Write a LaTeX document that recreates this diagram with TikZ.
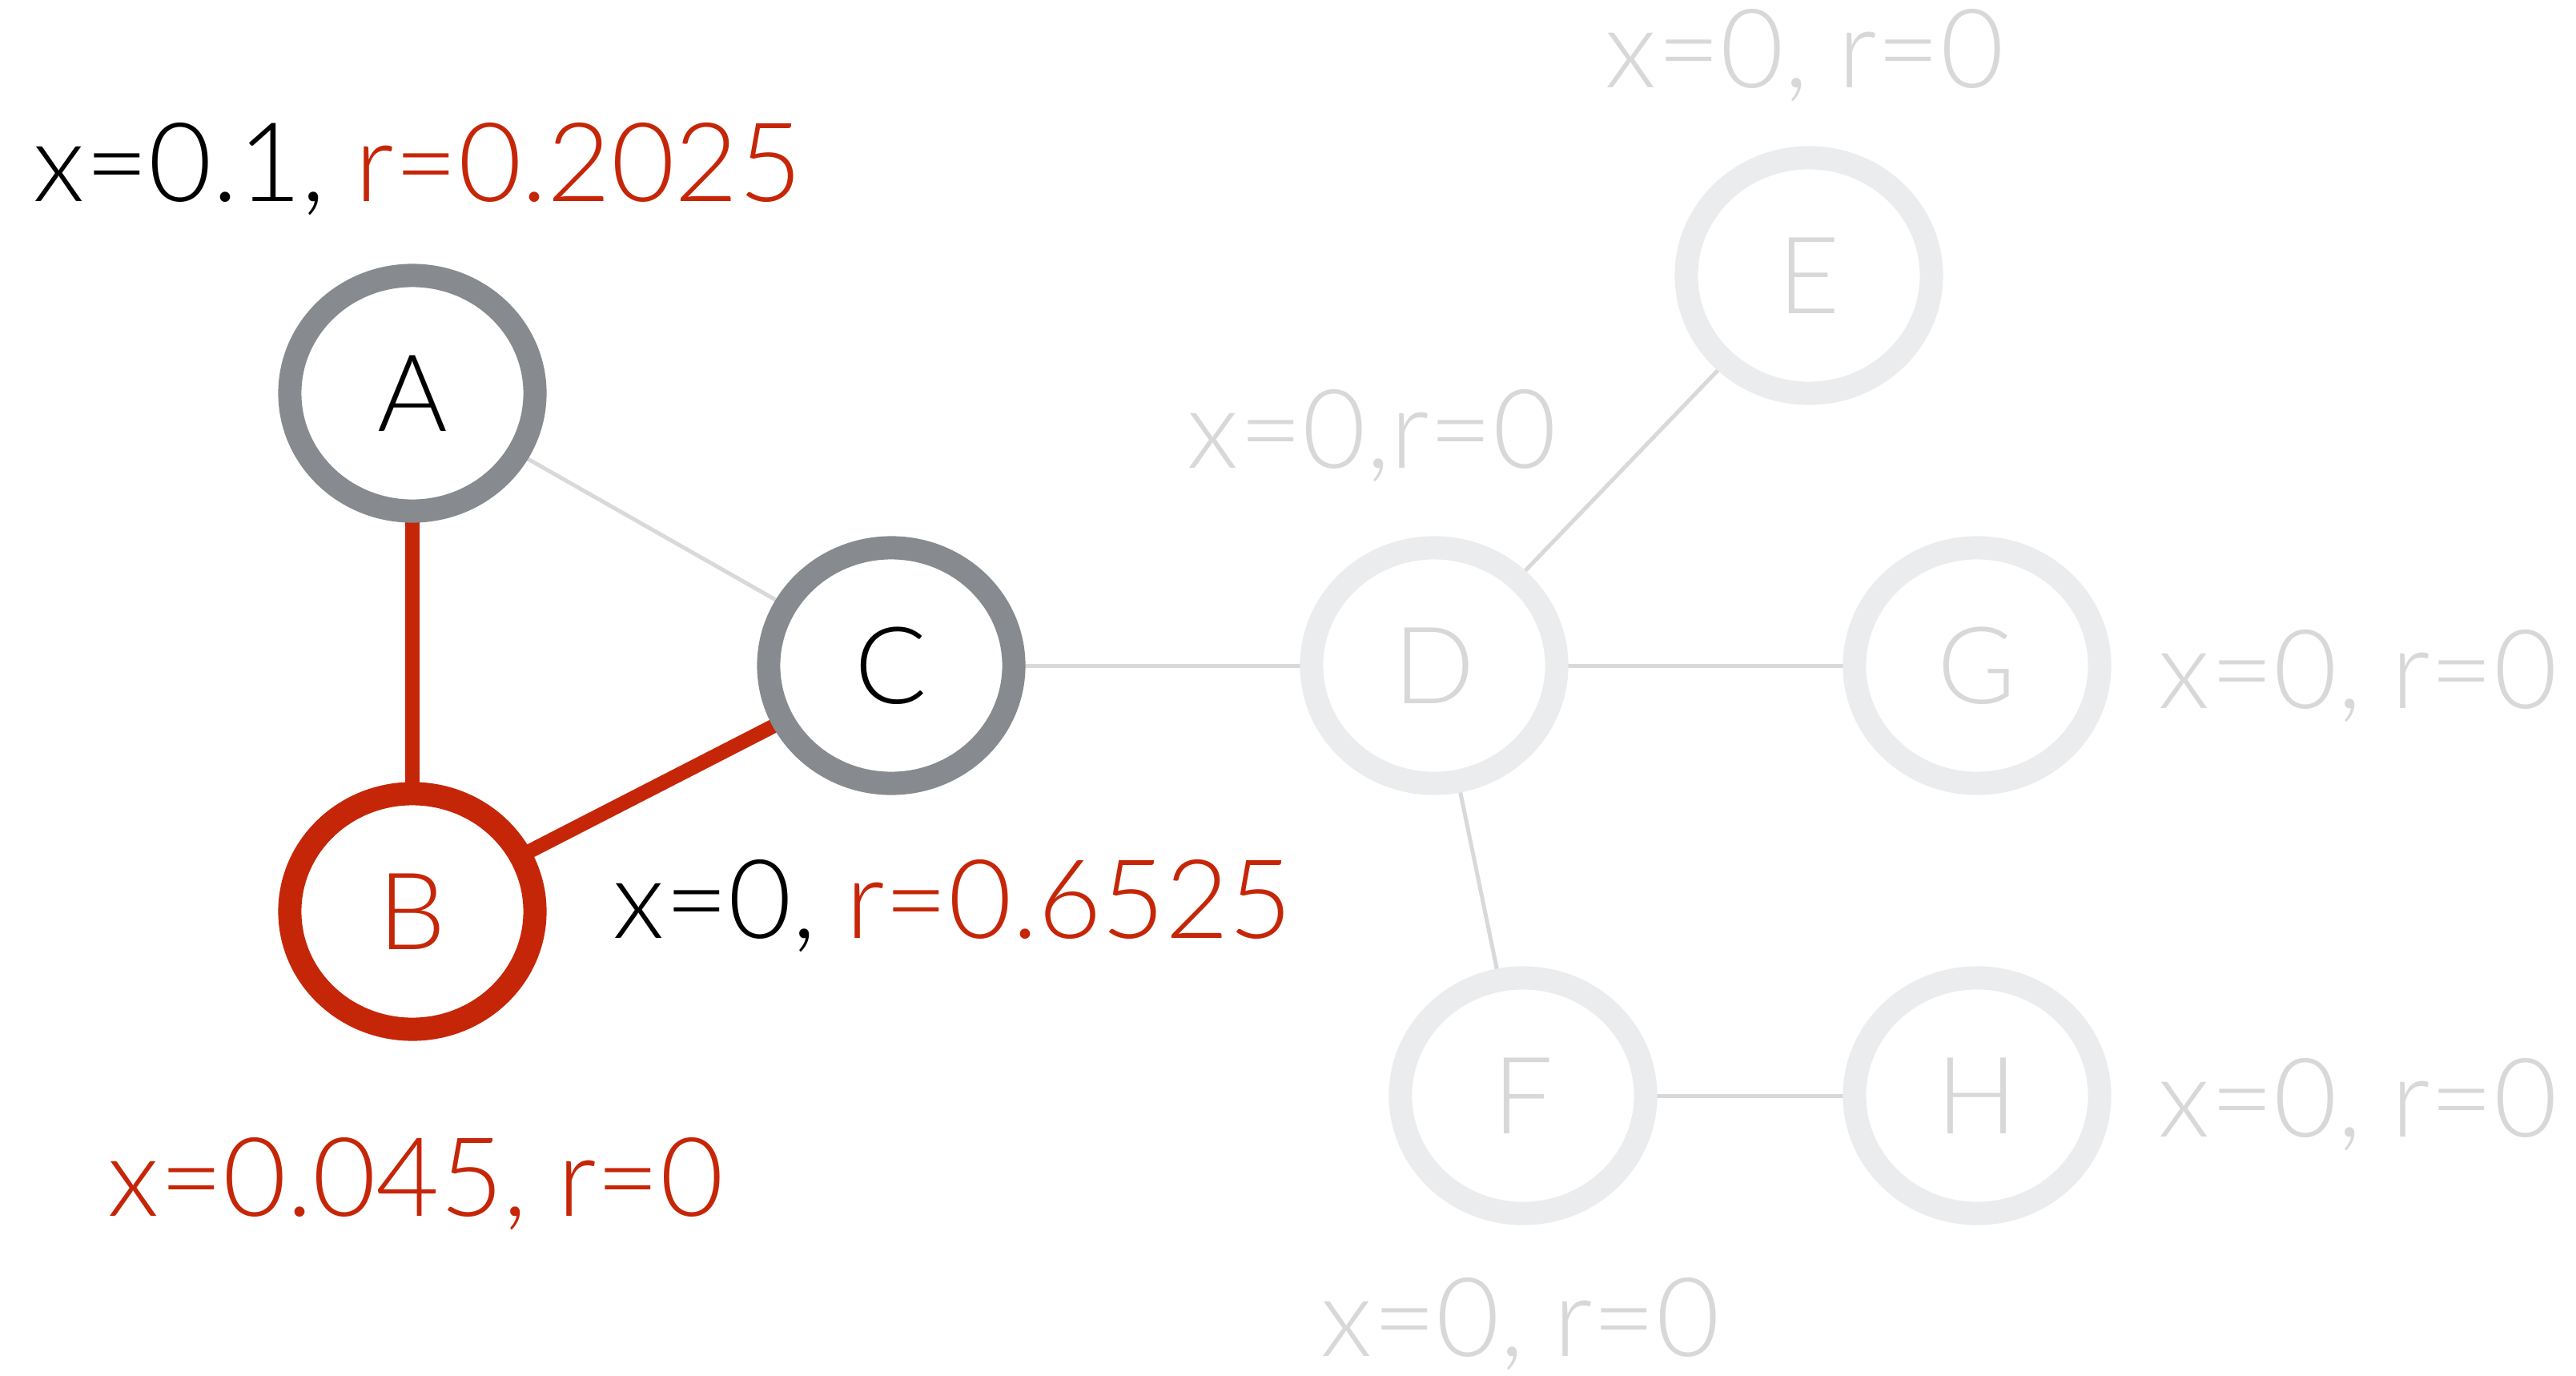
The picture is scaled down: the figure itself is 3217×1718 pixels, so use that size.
\documentclass[tikz,border=0pt]{standalone}
\usepackage{fontspec}
\setmainfont{Lato Light}
\usetikzlibrary{shapes.geometric}
\definecolor{redc}{HTML}{C62608}
\definecolor{greyring}{HTML}{878A8F}
\definecolor{lightring}{HTML}{EBECEE}
\definecolor{lightline}{HTML}{D9D9D9}
\definecolor{lighttext}{HTML}{D8D8D8}
\pgfdeclarelayer{bg}
\pgfdeclarelayer{paper}
\pgfsetlayers{paper,bg,main}
\tikzset{
  vert/.style={ellipse, draw, fill=white, line width=0.29cm, minimum width=3.06cm, minimum height=2.94cm, inner sep=0pt, font=\fontsize{38}{44}\selectfont},
  activev/.style={vert, draw=greyring, text=black},
  redv/.style={vert, draw=redc, text=redc},
  fadedv/.style={vert, draw=lightring, text=lighttext},
  lbl/.style={anchor=base west, inner sep=0pt, font=\fontsize{39}{45}\selectfont},
  thinedge/.style={draw=lightline, line width=0.05cm},
  rededge/.style={draw=redc, line width=0.18cm},
}
\begin{document}
\begin{tikzpicture}[x=0.01cm, y=-0.01cm]
\begin{pgfonlayer}{paper}
\fill[white] (0,0) rectangle (3217,1718);
\end{pgfonlayer}
\useasboundingbox (0,0) rectangle (3217,1718);
\node[activev] (A) at (515,491) {A};
\node[redv] (B) at (515,1138) {B};
\node[activev] (C) at (1113,831) {C};
\node[fadedv] (D) at (1791,831) {D};
\node[fadedv] (E) at (2259,344) {E};
\node[fadedv] (G) at (2469,831) {G};
\node[fadedv] (F) at (1902,1368) {F};
\node[fadedv] (H) at (2469,1368) {H};
\begin{pgfonlayer}{bg}
\draw[thinedge] (A.center) -- (C.center);
\draw[thinedge] (C.center) -- (D.center);
\draw[thinedge] (D.center) -- (E.center);
\draw[thinedge] (D.center) -- (G.center);
\draw[thinedge] (D.center) -- (F.center);
\draw[thinedge] (F.center) -- (H.center);
\draw[rededge] (A.center) -- (B.center);
\draw[rededge] (B.center) -- (C.center);
\end{pgfonlayer}
\node[lbl] (lA) at (41,251) {x=0.1, \textcolor{redc}{r=0.2025}};
\node[lbl] (lC) at (765,1171) {x=0, \textcolor{redc}{r=0.6525}};
\node[lbl, text=redc] (lB) at (134,1518) {x=0.045, r=0};
\node[lbl, text=lighttext] (lE) at (2004,109) {x=0, r=0};
\node[lbl, text=lighttext] (lD) at (1482,584) {x=0,r=0};
\node[lbl, text=lighttext] (lG) at (2695,884) {x=0, r=0};
\node[lbl, text=lighttext] (lH) at (2695,1419) {x=0, r=0};
\node[lbl, text=lighttext] (lF) at (1649,1693) {x=0, r=0};
\end{tikzpicture}
\end{document}
